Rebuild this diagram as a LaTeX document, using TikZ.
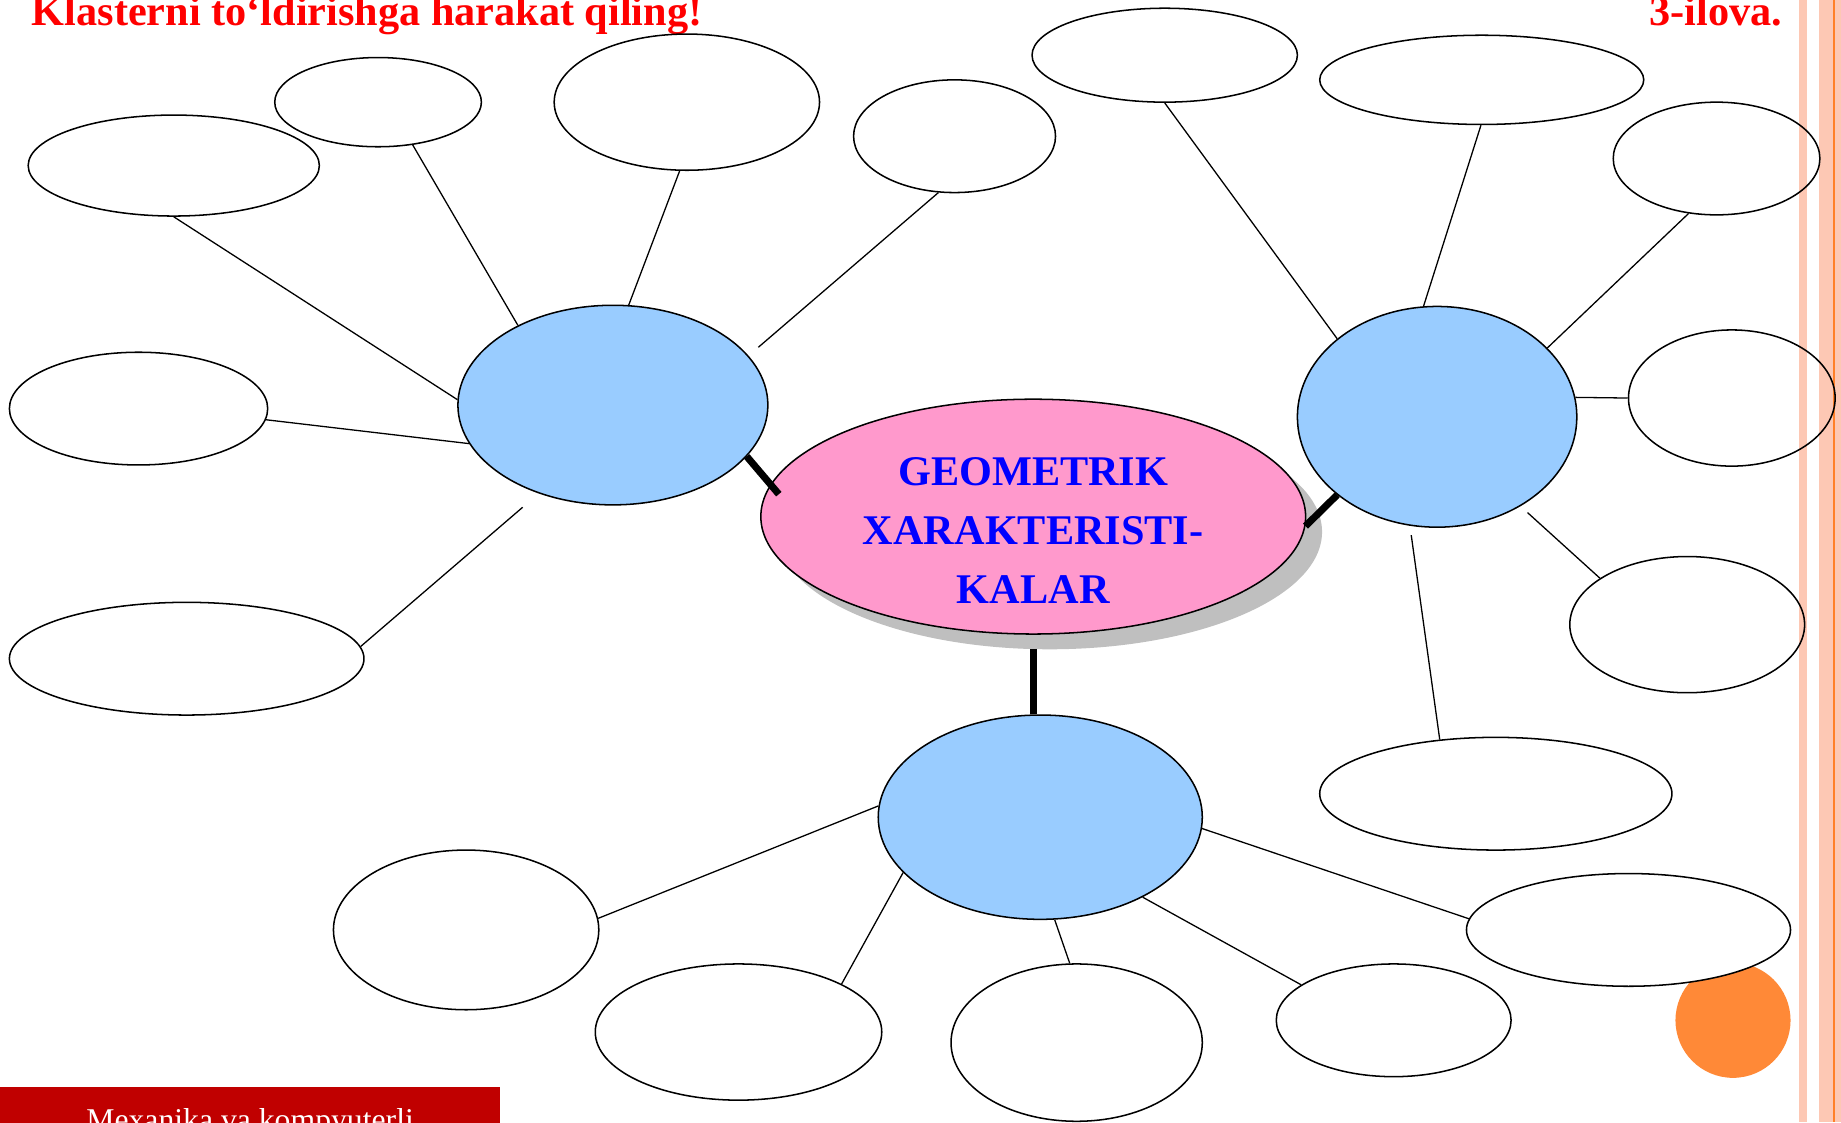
\documentclass[tikz,border=0pt]{standalone}
\usepackage{fontspec}
\setmainfont{Liberation Serif}
\usetikzlibrary{shapes.geometric,shadows,positioning}

\definecolor{titlered}{RGB}{255,0,0}
\definecolor{hubblue}{RGB}{153,204,255}
\definecolor{corepink}{RGB}{255,153,204}
\definecolor{footred}{RGB}{192,0,0}
\definecolor{stripepeach}{RGB}{253,200,180}
\definecolor{dotorange}{RGB}{255,137,55}
\definecolor{lineorange}{RGB}{255,128,40}

\begin{document}
\begin{tikzpicture}[x=1pt, y=-1pt]
    % Define styles
    \tikzstyle{leaf} = [ellipse, draw, line width=1.3pt, inner sep=0pt]
    \tikzstyle{hub} = [ellipse, draw, line width=1.3pt, fill=hubblue, inner sep=0pt]
    \tikzstyle{core} = [ellipse, draw, line width=1.3pt, fill=corepink, inner sep=0pt, drop shadow={shadow xshift=14pt, shadow yshift=-13pt, fill=black!25, opacity=1}]
    \tikzstyle{coretext} = [align=center, text=blue, inner sep=0pt, font=\fontsize{36}{50}\selectfont\bfseries]
    \tikzstyle{heading} = [text=titlered, inner sep=0pt, font=\fontsize{36}{40}\selectfont\bfseries]
    \tikzstyle{twig} = [line width=1.1pt]
    \tikzstyle{stem} = [line width=6pt]

    \useasboundingbox (0,0) rectangle (1568,956);
    \clip (0,0) rectangle (1568,956);

    % Slide decoration
    \fill[stripepeach] (1532,0) rectangle (1539,956);
    \fill[stripepeach] (1549,0) rectangle (1568,956);
    \draw[lineorange, line width=1.3pt] (1562,0) -- (1562,956);
    \fill[dotorange] (1476,869) circle (49pt);

    % Headings
    \node[heading, anchor=base west] (title) at (27,22) {Klasterni to‘ldirishga harakat qiling!};
    \node[heading, anchor=base east] (ilova) at (1518,22) {3-ilova.};
    \node[anchor=base, fill=footred, text=white, minimum width=426pt, text height=18pt, inner ysep=19pt, font=\fontsize{27}{30}\selectfont] (foot) at (213,963) {Mexanika va kompyuterli};

    % Draw core and hubs
    \node[core, minimum width=464pt, minimum height=200pt] (geo) at (880,440) {};
    \node[hub, minimum width=264pt, minimum height=170pt] (lb) at (522,345) {};
    \node[hub, minimum width=238pt, minimum height=188pt] (rb) at (1224,355) {};
    \node[hub, minimum width=276pt, minimum height=174pt] (bb) at (886,696) {};

    % Draw empty leaves
    \node[leaf, minimum width=248pt, minimum height=86pt] (l1) at (148,141) {};
    \node[leaf, minimum width=176pt, minimum height=76pt] (l2) at (322,87) {};
    \node[leaf, minimum width=226pt, minimum height=116pt] (l3) at (585,87) {};
    \node[leaf, minimum width=172pt, minimum height=96pt] (l4) at (813,116) {};
    \node[leaf, minimum width=220pt, minimum height=96pt] (l5) at (118,348) {};
    \node[leaf, minimum width=302pt, minimum height=96pt] (l6) at (159,561) {};
    \node[leaf, minimum width=226pt, minimum height=80pt] (r1) at (992,47) {};
    \node[leaf, minimum width=276pt, minimum height=76pt] (r2) at (1262,68) {};
    \node[leaf, minimum width=176pt, minimum height=96pt] (r3) at (1462,135) {};
    \node[leaf, minimum width=176pt, minimum height=116pt] (r4) at (1475,339) {};
    \node[leaf, minimum width=200pt, minimum height=116pt] (r5) at (1437,532) {};
    \node[leaf, minimum width=300pt, minimum height=96pt] (r6) at (1274,676) {};
    \node[leaf, minimum width=226pt, minimum height=136pt] (b1) at (397,792) {};
    \node[leaf, minimum width=244pt, minimum height=116pt] (b2) at (629,879) {};
    \node[leaf, minimum width=214pt, minimum height=134pt] (b3) at (917,888) {};
    \node[leaf, minimum width=200pt, minimum height=96pt] (b4) at (1187,869) {};
    \node[leaf, fill=white, minimum width=276pt, minimum height=96pt] (b5) at (1387,792) {};

    % Thick links to the core
    \draw[stem, shorten >=-11pt] (lb.339) -- (geo.173);
    \draw[stem] (geo.358) -- (rb.218);
    \draw[stem, shorten <=12pt] (geo.south) -- (geo.south |- bb.north);

    % Thin links to the leaves
    \draw[twig] (l1.south) -- (lb.178);
    \draw[twig] (l2.309) -- (lb.140);
    \draw[twig] (l3.264) -- (lb.81);
    \draw[twig, shorten >=11pt] (l4.254) -- (lb.20);
    \draw[twig] (l5.355) -- (lb.195);
    \draw[twig, shorten >=18pt] (l6.4) -- (lb.230);
    \draw[twig] (r1.south) -- (rb.142);
    \draw[twig] (r2.269) -- (rb.97);
    \draw[twig] (r3.243) -- (rb.32);
    \draw[twig] (r4.west) -- (rb.8);
    \draw[twig, shorten >=8pt] (r5.152) -- (rb.313);
    \draw[twig, shorten >=8pt] (r6.136) -- (rb.256);
    \draw[twig] (b1.5) -- (bb.176);
    \draw[twig] (b2.25) -- (bb.202);
    \draw[twig] (b3.95) -- (bb.278);
    \draw[twig] (b4.159) -- (bb.322);
    \draw[twig] (b5.176) -- (bb.356);

    % Core label
    \node[coretext] (geotext) at ([yshift=-12pt]geo.center) {GEOMETRIK\\XARAKTERISTI-\\KALAR};
\end{tikzpicture}
\end{document}
